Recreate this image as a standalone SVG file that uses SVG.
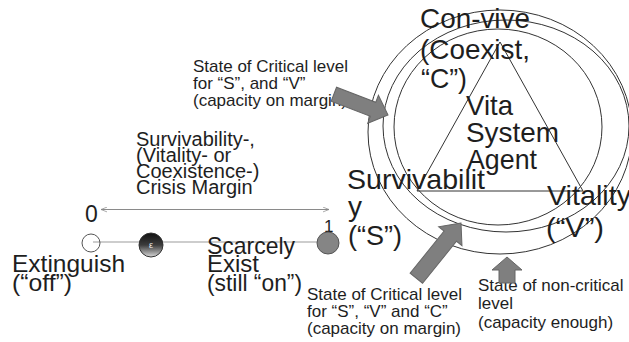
<svg xmlns="http://www.w3.org/2000/svg" width="629" height="342" viewBox="0 0 629 342">
<style>
  text { font-family: "Liberation Sans", Arial, sans-serif; fill: #1e1e1e; }
  .big { font-size: 28px; }
  .low { font-size: 24px; }
  .mid { font-size: 20px; }
  .small { font-size: 17px; }
  .ring { fill: none; stroke: #333; stroke-width: 1; }
  .blk { fill: #7f7f7f; stroke: #666; stroke-width: 1; }
  .thin { stroke: #8a8a8a; stroke-width: 1; fill: none; }
</style>
<defs>
  <linearGradient id="eps" x1="0" y1="0" x2="0" y2="1">
    <stop offset="0" stop-color="#111"/>
    <stop offset="0.5" stop-color="#3c3c3c"/>
    <stop offset="1" stop-color="#d8d8d8"/>
  </linearGradient>
  <marker id="ah" viewBox="0 0 10 10" refX="10" refY="5" markerWidth="6" markerHeight="6" orient="auto-start-reverse" markerUnits="userSpaceOnUse">
    <path d="M0,1 L10,5 L0,9" fill="none" stroke="#8a8a8a" stroke-width="1.2"/>
  </marker>
</defs>
<rect width="629" height="342" fill="#fff"/>

<g id="rings">
  <ellipse class="ring" cx="500" cy="132" rx="132" ry="122"/>
  <ellipse class="ring" cx="506" cy="126" rx="123" ry="106"/>
  <ellipse class="ring" cx="498" cy="127" rx="104" ry="98"/>
  <polygon class="ring" points="500,42 417,191 583,191"/>
</g>

<g id="node-convive">
  <text class="big" x="420" y="28" textLength="110" lengthAdjust="spacingAndGlyphs">Con-vive</text>
  <text class="big" x="420" y="59" textLength="110" lengthAdjust="spacingAndGlyphs">(Coexist,</text>
  <text class="big" x="421" y="88" textLength="46" lengthAdjust="spacingAndGlyphs">“C”)</text>
</g>
<g id="node-agent">
  <text class="big" x="466" y="115" textLength="47" lengthAdjust="spacingAndGlyphs">Vita</text>
  <text class="big" x="466" y="142" textLength="93" lengthAdjust="spacingAndGlyphs">System</text>
  <text class="big" x="467" y="169" textLength="70" lengthAdjust="spacingAndGlyphs">Agent</text>
</g>
<g id="node-survivability">
  <text class="big" x="347" y="189" textLength="138" lengthAdjust="spacingAndGlyphs">Survivabilit</text>
  <text class="big" x="348" y="216">y</text>
  <text class="big" x="348" y="245" textLength="54" lengthAdjust="spacingAndGlyphs">(“S”)</text>
</g>
<g id="node-vitality">
  <text class="big" x="547" y="205" textLength="84" lengthAdjust="spacingAndGlyphs">Vitality</text>
  <text class="big" x="546" y="237" textLength="58" lengthAdjust="spacingAndGlyphs">(“V”)</text>
</g>

<g id="label-critical-sv">
  <text class="small" x="193" y="72">State of Critical level</text>
  <text class="small" x="193" y="89">for “S”, and “V”</text>
  <text class="small" x="193" y="106">(capacity on margin)</text>
</g>
<g id="label-margin">
  <text class="mid" x="136" y="146">Survivability-,</text>
  <text class="mid" x="136" y="162">(Vitality- or</text>
  <text class="mid" x="136" y="178">Coexistence-)</text>
  <text class="mid" x="136" y="194">Crisis Margin</text>
</g>
<g id="label-critical-svc">
  <text class="small" x="307" y="300">State of Critical level</text>
  <text class="small" x="307" y="317">for “S”, “V”  and “C”</text>
  <text class="small" x="307" y="334">(capacity on margin)</text>
</g>
<g id="label-noncritical">
  <text class="small" x="478" y="291">State of non-critical</text>
  <text class="small" x="478" y="309">level</text>
  <text class="small" x="478" y="328">(capacity enough)</text>
</g>

<g id="connectors">
  <line class="thin" x1="101" y1="209.5" x2="329" y2="209.5" marker-start="url(#ah)" marker-end="url(#ah)"/>
  <line x1="93" y1="242" x2="322" y2="242" stroke="#bdbdbd" stroke-width="1.5"/>
  <g transform="translate(388,115) rotate(21)">
    <polygon class="blk" points="0,0 -16,-15 -16,-7.5 -58,-7.5 -58,7.5 -16,7.5 -16,15"/>
  </g>
  <g transform="translate(461,223) rotate(-51)">
    <polygon class="blk" points="0,0 -17,-15 -17,-8 -71,-8 -71,8 -17,8 -17,15"/>
  </g>
  <polygon class="blk" points="507,257 522,270 515,270 515,283 499,283 499,270 492,270"/>
</g>

<g id="node-zero">
  <text x="85" y="222" style="font-size:23px">0</text>
</g>
<g id="node-one">
  <text x="324" y="232" style="font-size:17px">1</text>
  <circle cx="328" cy="243" r="11" fill="#858585" stroke="#555" stroke-width="1"/>
</g>
<g id="node-off">
  <circle cx="91" cy="243" r="9" fill="none" stroke="#555" stroke-width="1"/>
  <text class="low" x="12" y="272" textLength="113" lengthAdjust="spacingAndGlyphs">Extinguish</text>
  <text class="low" x="12" y="291" textLength="60" lengthAdjust="spacingAndGlyphs">(“off”)</text>
</g>
<g id="node-epsilon">
  <circle cx="151" cy="245" r="12" fill="url(#eps)" stroke="#333" stroke-width="1"/>
  <text x="151" y="248" text-anchor="middle" style="font-size:9px;fill:#eee">ε</text>
</g>
<g id="node-scarce">
  <text class="low" x="207" y="254" textLength="88" lengthAdjust="spacingAndGlyphs">Scarcely</text>
  <text class="low" x="207" y="272" textLength="52" lengthAdjust="spacingAndGlyphs">Exist</text>
  <text class="low" x="207" y="291" textLength="95" lengthAdjust="spacingAndGlyphs">(still “on”)</text>
</g>
</svg>
